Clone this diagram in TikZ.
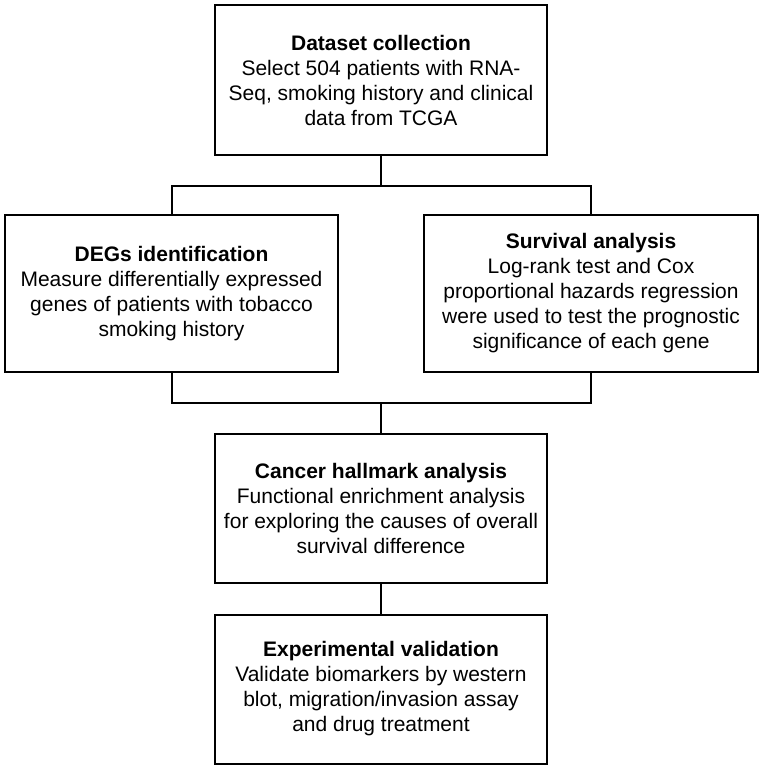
\documentclass[tikz,border=0pt]{standalone}
\usepackage{fontspec}
\setmainfont{Liberation Sans}
\begin{document}
\begin{tikzpicture}[x=1pt,y=-1pt,
  box/.style={draw=black, line width=2pt, fill=white, align=center, inner sep=0pt,
    font=\fontsize{21}{25}\selectfont, text=black},
  conn/.style={draw=black, line width=2pt}]
\useasboundingbox (0,0) rectangle (764,769);
\node[box, minimum width=332, minimum height=150] (b1) at (381,80)
  {\textbf{Dataset collection}\\Select 504 patients with RNA-\\Seq, smoking history and clinical\\data from TCGA};
\node[box, minimum width=333, minimum height=157] (b2) at (171.5,293.5)
  {\textbf{DEGs identification}\\Measure differentially expressed\\genes of patients with tobacco\\smoking history};
\node[box, minimum width=334, minimum height=157] (b3) at (591,293.5)
  {\textbf{Survival analysis}\\Log-rank test and Cox\\proportional hazards regression\\were used to test the prognostic\\significance of each gene};
\node[box, minimum width=332, minimum height=149] (b4) at (381,508.5)
  {\textbf{Cancer hallmark analysis}\\Functional enrichment analysis\\for exploring the causes of overall\\survival difference};
\node[box, minimum width=332, minimum height=149] (b5) at (381,689)
  {\textbf{Experimental validation}\\Validate biomarkers by western\\blot, migration/invasion assay\\and drug treatment};
\coordinate (j1) at (381,185.5);
\coordinate (j2) at (381,403);
\draw[conn] (b1.south) -- (j1);
\draw[conn] (b2.north) |- (j1) -| (b3.north);
\draw[conn] (b2.south) |- (j2) -| (b3.south);
\draw[conn] (j2) -- (b4.north);
\draw[conn] (b4.south) -- (b5.north);
\end{tikzpicture}
\end{document}
